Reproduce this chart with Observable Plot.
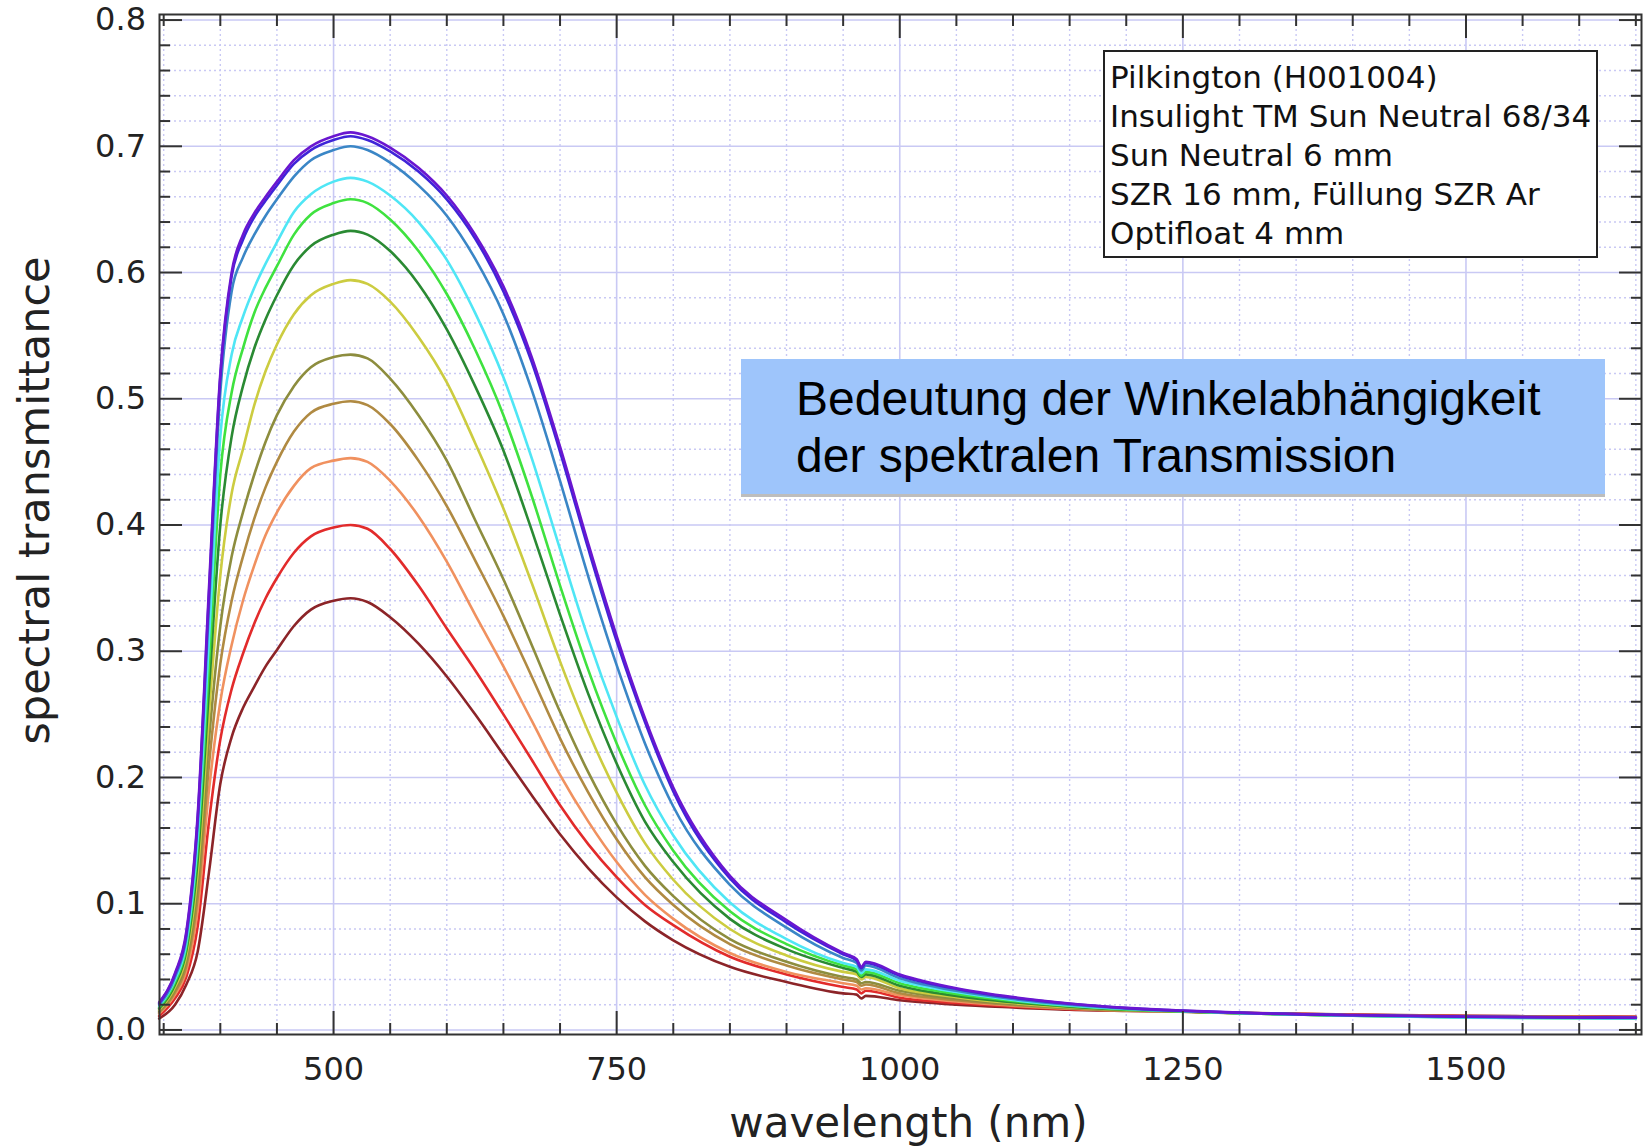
<!DOCTYPE html>
<html>
<head>
<meta charset="utf-8">
<script src="https://cdn.jsdelivr.net/npm/d3@7"></script>
<script src="https://cdn.jsdelivr.net/npm/@observablehq/plot@0.6"></script>
<style>
  html, body { margin: 0; padding: 0; background: #fff; }
  #wrap { position: relative; width: 1643px; height: 1147px; overflow: hidden; }
  #wrap svg { position: absolute; left: 0; top: 0; }
  .legend {
    position: absolute; left: 1103px; top: 50px; width: 495px; height: 208px;
    box-sizing: border-box; border: 2px solid #222; background: #fff;
    padding: 6px 0 0 5px; font-family: "DejaVu Sans", sans-serif; font-size: 31px;
    line-height: 39px; color: #111; white-space: nowrap;
  }
  .note {
    position: absolute; left: 741px; top: 359px; width: 864px; height: 135px;
    box-sizing: border-box; background: #9ec5fb; box-shadow: 0 3px 0 #bdbdbd;
    padding: 12px 0 0 55px; font-family: "Liberation Sans", Arial, sans-serif;
    font-size: 48px; line-height: 56.6px; color: #000; white-space: nowrap;
  }
</style>
</head>
<body>
<div id="wrap"></div>
<script>
// ---- data ----
const wavelength = [346, 360, 370, 380, 390, 400, 410, 420, 430, 440, 450, 465, 480, 500, 515, 530, 550, 575, 600, 625, 650, 675, 700, 725, 750, 775, 800, 850, 900, 950, 962, 966, 970, 1000, 1050, 1100, 1150, 1200, 1250, 1300, 1400, 1500, 1600, 1650];

const curve01 = [0.022, 0.045, 0.078, 0.17, 0.35, 0.52, 0.60, 0.630, 0.647, 0.660, 0.672, 0.689, 0.700, 0.708, 0.711, 0.708, 0.699, 0.683, 0.661, 0.630, 0.589, 0.533, 0.462, 0.385, 0.312, 0.247, 0.192, 0.122, 0.087, 0.061, 0.056, 0.050, 0.054, 0.044, 0.033, 0.026, 0.021, 0.0175, 0.0153, 0.0137, 0.0118, 0.0106, 0.0100, 0.0098];
const curve02 = [0.021, 0.044, 0.076, 0.167, 0.345, 0.517, 0.597, 0.626, 0.644, 0.657, 0.669, 0.686, 0.697, 0.705, 0.708, 0.705, 0.696, 0.680, 0.658, 0.627, 0.585, 0.529, 0.458, 0.381, 0.308, 0.244, 0.189, 0.120, 0.085, 0.060, 0.055, 0.049, 0.053, 0.043, 0.0325, 0.0255, 0.0207, 0.0173, 0.0152, 0.0136, 0.0117, 0.0105, 0.0099, 0.0097];
const curve03 = [0.020, 0.042, 0.073, 0.162, 0.335, 0.505, 0.585, 0.612, 0.630, 0.645, 0.658, 0.676, 0.689, 0.697, 0.700, 0.697, 0.687, 0.669, 0.645, 0.611, 0.567, 0.507, 0.435, 0.359, 0.289, 0.227, 0.177, 0.115, 0.081, 0.057, 0.053, 0.047, 0.051, 0.041, 0.031, 0.0245, 0.020, 0.0169, 0.0150, 0.0135, 0.0115, 0.0103, 0.0097, 0.0095];
const curve04 = [0.019, 0.040, 0.069, 0.152, 0.31, 0.47, 0.535, 0.565, 0.588, 0.607, 0.624, 0.648, 0.662, 0.672, 0.675, 0.672, 0.661, 0.640, 0.610, 0.568, 0.517, 0.453, 0.381, 0.310, 0.248, 0.194, 0.154, 0.101, 0.072, 0.053, 0.050, 0.045, 0.048, 0.039, 0.030, 0.0237, 0.0195, 0.0166, 0.0149, 0.0133, 0.0112, 0.0098, 0.0093, 0.0091];
const curve05 = [0.018, 0.038, 0.066, 0.145, 0.29, 0.44, 0.505, 0.54, 0.568, 0.588, 0.605, 0.630, 0.646, 0.655, 0.658, 0.655, 0.642, 0.617, 0.583, 0.539, 0.487, 0.423, 0.352, 0.285, 0.227, 0.178, 0.142, 0.094, 0.068, 0.051, 0.048, 0.043, 0.046, 0.037, 0.0285, 0.023, 0.019, 0.0163, 0.0148, 0.0132, 0.0112, 0.0099, 0.0094, 0.0092];
const curve06 = [0.017, 0.036, 0.063, 0.135, 0.27, 0.40, 0.47, 0.51, 0.540, 0.563, 0.582, 0.606, 0.621, 0.630, 0.633, 0.630, 0.617, 0.591, 0.555, 0.510, 0.459, 0.396, 0.329, 0.266, 0.211, 0.165, 0.133, 0.088, 0.064, 0.049, 0.046, 0.042, 0.044, 0.035, 0.027, 0.022, 0.0185, 0.0160, 0.0147, 0.0132, 0.0113, 0.0101, 0.0096, 0.0094];
const curve07 = [0.016, 0.034, 0.059, 0.125, 0.25, 0.36, 0.425, 0.46, 0.495, 0.522, 0.543, 0.567, 0.582, 0.591, 0.594, 0.591, 0.577, 0.549, 0.513, 0.465, 0.413, 0.354, 0.292, 0.236, 0.188, 0.148, 0.119, 0.080, 0.059, 0.046, 0.044, 0.040, 0.042, 0.033, 0.026, 0.0213, 0.018, 0.0158, 0.0146, 0.0132, 0.0114, 0.0103, 0.0098, 0.0096];
const curve08 = [0.015, 0.032, 0.055, 0.115, 0.23, 0.32, 0.375, 0.41, 0.440, 0.466, 0.487, 0.510, 0.525, 0.533, 0.535, 0.532, 0.516, 0.487, 0.451, 0.404, 0.357, 0.305, 0.252, 0.204, 0.163, 0.130, 0.106, 0.072, 0.054, 0.042, 0.040, 0.037, 0.038, 0.031, 0.0248, 0.0205, 0.0175, 0.0156, 0.0145, 0.0132, 0.0115, 0.0105, 0.0100, 0.0098];
const curve09 = [0.014, 0.030, 0.051, 0.105, 0.21, 0.29, 0.34, 0.375, 0.405, 0.430, 0.450, 0.474, 0.489, 0.496, 0.498, 0.495, 0.480, 0.451, 0.415, 0.372, 0.328, 0.280, 0.231, 0.188, 0.151, 0.121, 0.099, 0.068, 0.051, 0.040, 0.038, 0.035, 0.036, 0.029, 0.0235, 0.0198, 0.0171, 0.0154, 0.0145, 0.0133, 0.0117, 0.0107, 0.0102, 0.0100];
const curve10 = [0.013, 0.028, 0.047, 0.095, 0.19, 0.26, 0.305, 0.34, 0.368, 0.392, 0.410, 0.431, 0.445, 0.451, 0.453, 0.450, 0.435, 0.407, 0.371, 0.329, 0.288, 0.245, 0.202, 0.165, 0.133, 0.107, 0.088, 0.061, 0.046, 0.037, 0.035, 0.032, 0.033, 0.0275, 0.0225, 0.0192, 0.0168, 0.0153, 0.0145, 0.0134, 0.0119, 0.0109, 0.0104, 0.0102];
const curve11 = [0.011, 0.025, 0.042, 0.082, 0.165, 0.23, 0.27, 0.298, 0.322, 0.342, 0.358, 0.378, 0.391, 0.398, 0.400, 0.397, 0.381, 0.352, 0.318, 0.285, 0.250, 0.214, 0.178, 0.147, 0.121, 0.099, 0.083, 0.058, 0.044, 0.034, 0.032, 0.029, 0.031, 0.0255, 0.0213, 0.0185, 0.0164, 0.0152, 0.0146, 0.0135, 0.0121, 0.0111, 0.0106, 0.0104];
const curve12 = [0.009, 0.020, 0.036, 0.062, 0.125, 0.195, 0.232, 0.255, 0.272, 0.288, 0.301, 0.320, 0.333, 0.340, 0.342, 0.339, 0.327, 0.306, 0.280, 0.250, 0.218, 0.186, 0.155, 0.128, 0.105, 0.086, 0.071, 0.050, 0.038, 0.029, 0.028, 0.025, 0.027, 0.0235, 0.020, 0.0178, 0.016, 0.0151, 0.0146, 0.0135, 0.0122, 0.0112, 0.0107, 0.0105];

const seriesNames = ["c12", "c11", "c10", "c09", "c08", "c07", "c06", "c05", "c04", "c03", "c02", "c01"];
const seriesColors = ["#8c2428", "#e22b2b", "#f0915f", "#b08a42", "#8d8d3e", "#cccc40", "#2a8a33", "#3fe23f", "#4fe6f5", "#3a86c6", "#3f24d8", "#6a16d0"];

const xMajorTicks = [500, 750, 1000, 1250, 1500];
const xMinorTicks = [350, 400, 450, 550, 600, 650, 700, 800, 850, 900, 950, 1050, 1100, 1150, 1200, 1300, 1350, 1400, 1450, 1550, 1600, 1650];
const yMajorTicks = [0.0, 0.1, 0.2, 0.3, 0.4, 0.5, 0.6, 0.7, 0.8];
const yMinorTicks = [0.02, 0.04, 0.06, 0.08, 0.12, 0.14, 0.16, 0.18, 0.22, 0.24, 0.26, 0.28, 0.32, 0.34, 0.36, 0.38, 0.42, 0.44, 0.46, 0.48, 0.52, 0.54, 0.56, 0.58, 0.62, 0.64, 0.66, 0.68, 0.72, 0.74, 0.76, 0.78];

const legendLines = ["Pilkington (H001004)", "Insulight TM Sun Neutral 68/34", "Sun Neutral 6 mm", "SZR 16 mm, Füllung SZR Ar", "Optifloat 4 mm"];
const noteLines = ["Bedeutung der Winkelabhängigkeit", "der spektralen Transmission"];
const xTitle = "wavelength (nm)";
const yTitle = "spectral transmittance";

// ---- table ----
const seriesValues = {c01: curve01, c02: curve02, c03: curve03, c04: curve04, c05: curve05, c06: curve06,
  c07: curve07, c08: curve08, c09: curve09, c10: curve10, c11: curve11, c12: curve12};
const rows = [];
for (const name of seriesNames) {
  seriesValues[name].forEach((v, i) => rows.push({series: name, wavelength: wavelength[i], value: v}));
}

const gridColor = "#c9c9f4";
const tickColor = "#333";

const chart = Plot.plot({
  width: 1643,
  height: 1147,
  marginLeft: 159,
  marginRight: 2,
  marginTop: 14,
  marginBottom: 113,
  style: {background: "transparent", fontFamily: "'DejaVu Sans', sans-serif", color: "#222"},
  x: {domain: [346.3, 1655], axis: null},
  y: {domain: [-0.0036, 0.8044], axis: null},
  color: {domain: seriesNames, range: seriesColors},
  marks: [
    Plot.gridY(yMinorTicks, {stroke: gridColor, strokeOpacity: 1, strokeWidth: 1.4, strokeDasharray: "2,3"}),
    Plot.gridX(xMinorTicks, {stroke: gridColor, strokeOpacity: 1, strokeWidth: 1.4, strokeDasharray: "2,3"}),
    Plot.gridY(yMajorTicks, {stroke: gridColor, strokeOpacity: 1, strokeWidth: 1.6}),
    Plot.gridX(xMajorTicks, {stroke: gridColor, strokeOpacity: 1, strokeWidth: 1.6}),
    Plot.line(rows, {x: "wavelength", y: "value", z: "series", stroke: "series", strokeWidth: 2.6, curve: "monotone-x"}),
    Plot.frame({stroke: tickColor, strokeWidth: 2}),
    // inward ticks on all four sides
    Plot.axisY(yMajorTicks, {anchor: "left", tickSize: -23, fill: "none", stroke: tickColor, strokeWidth: 2}),
    Plot.axisY(yMinorTicks, {anchor: "left", tickSize: -11, fill: "none", stroke: tickColor, strokeWidth: 2}),
    Plot.axisY(yMajorTicks, {anchor: "right", tickSize: -23, fill: "none", stroke: tickColor, strokeWidth: 2}),
    Plot.axisY(yMinorTicks, {anchor: "right", tickSize: -11, fill: "none", stroke: tickColor, strokeWidth: 2}),
    Plot.axisX(xMajorTicks, {anchor: "bottom", tickSize: -23, fill: "none", stroke: tickColor, strokeWidth: 2}),
    Plot.axisX(xMinorTicks, {anchor: "bottom", tickSize: -11, fill: "none", stroke: tickColor, strokeWidth: 2}),
    Plot.axisX(xMajorTicks, {anchor: "top", tickSize: -23, fill: "none", stroke: tickColor, strokeWidth: 2}),
    Plot.axisX(xMinorTicks, {anchor: "top", tickSize: -11, fill: "none", stroke: tickColor, strokeWidth: 2}),
    // tick labels
    Plot.axisY(yMajorTicks, {anchor: "left", tickSize: 0, tickPadding: 13.5, fontSize: 32, label: null, fill: "#222",
      tickFormat: d => d.toFixed(1)}),
    Plot.axisX(xMajorTicks, {anchor: "bottom", tickSize: 0, tickPadding: 23, fontSize: 32, label: null, fill: "#222",
      tickFormat: d => String(d)}),
    // axis titles
    Plot.text([xTitle], {frameAnchor: "bottom", textAnchor: "middle", lineAnchor: "middle", dx: 8, dy: 89, fontSize: 42, fill: "#222"}),
    Plot.text([yTitle], {frameAnchor: "left", textAnchor: "middle", lineAnchor: "middle", rotate: -90, dx: -124, dy: -24, fontSize: 43, fill: "#222"})
  ]
});

const wrap = document.getElementById("wrap");
wrap.appendChild(chart);

const legend = document.createElement("div");
legend.className = "legend";
legend.innerHTML = legendLines.map(t => `<div>${t}</div>`).join("");
wrap.appendChild(legend);

const note = document.createElement("div");
note.className = "note";
note.innerHTML = noteLines.map(t => `<div>${t}</div>`).join("");
wrap.appendChild(note);
</script>
</body>
</html>
